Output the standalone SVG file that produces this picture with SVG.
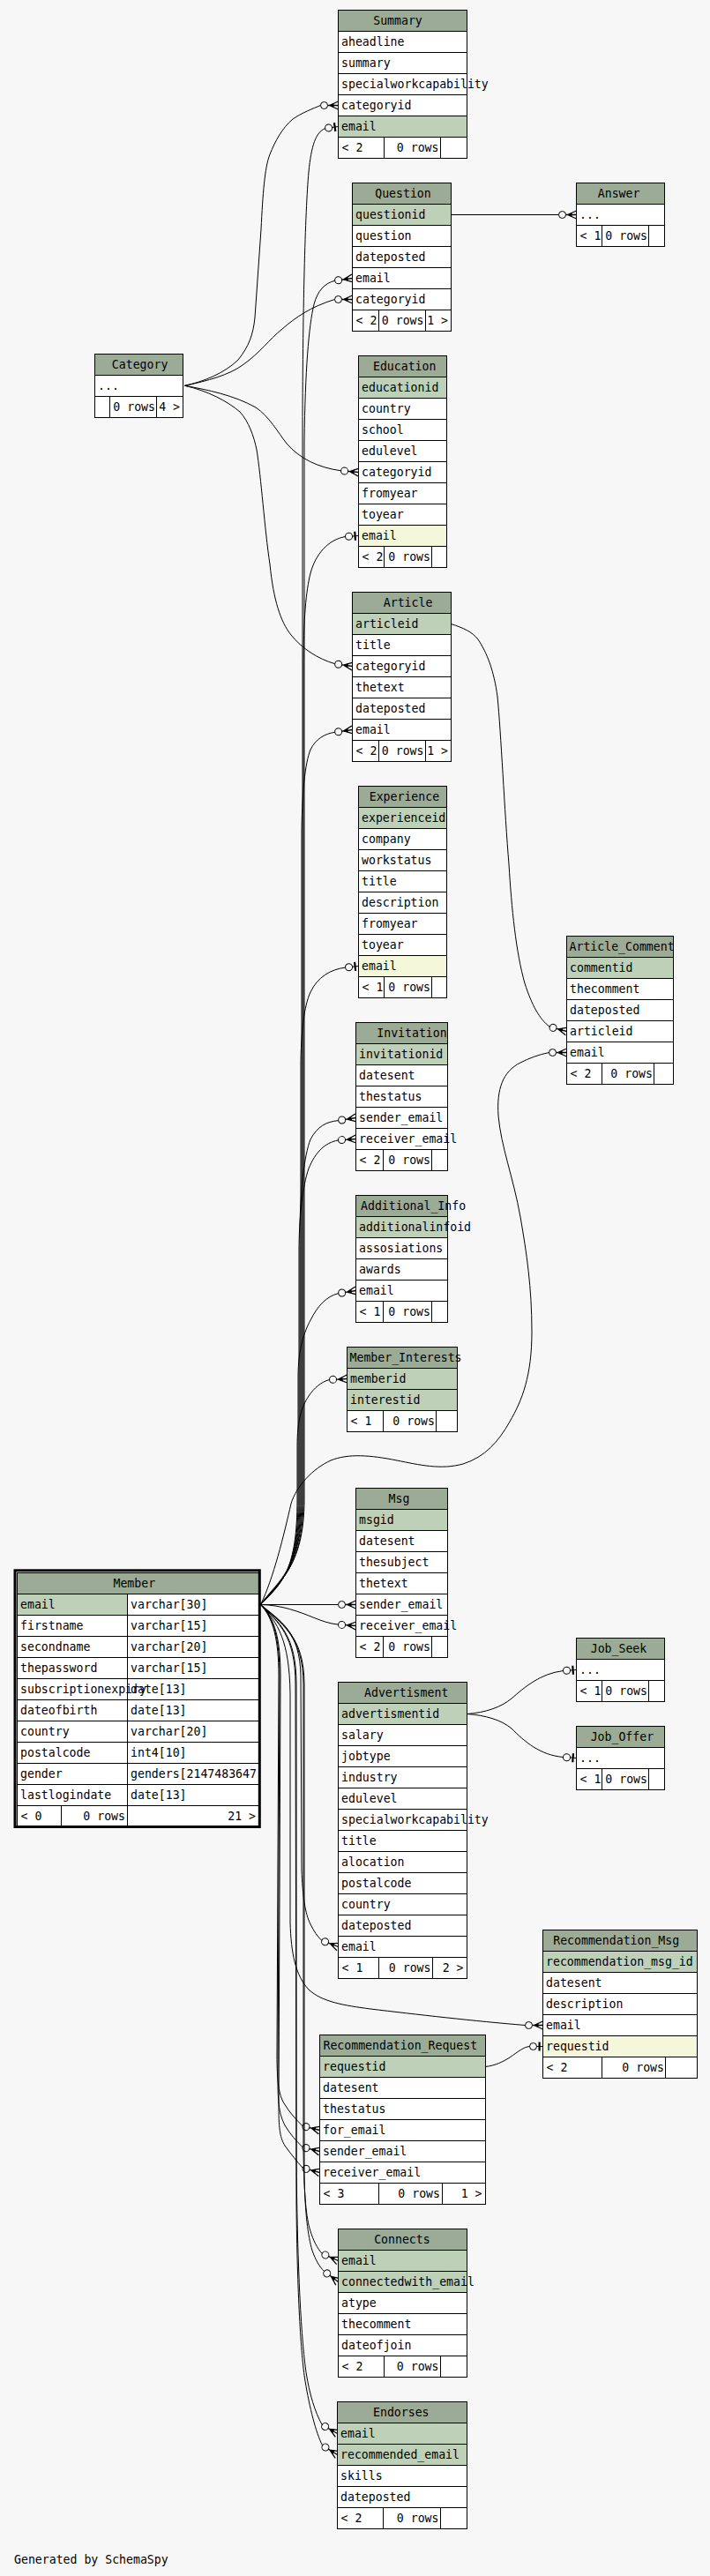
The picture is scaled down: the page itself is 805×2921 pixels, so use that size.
<svg xmlns="http://www.w3.org/2000/svg" width="805" height="2921" viewBox="0 0 805 2921">
<style>
.t{font-family:"DejaVu Sans Mono","Liberation Mono",monospace;font-size:13.2px;fill:#000}
.m{text-anchor:middle}
.e{text-anchor:end}
.hd{fill:#9bab96;stroke:#000;stroke-width:1}
.pk{fill:#bed1b8;stroke:#000;stroke-width:1}
.ix{fill:#f4f7da;stroke:#000;stroke-width:1}
.rw{fill:#fff;stroke:#000;stroke-width:1}
.ln{stroke:#000;stroke-width:1;fill:none}
.ed{fill:none;stroke:#000;stroke-width:1}
</style>
<defs>
<g id="crow">
<circle cx="-16" cy="0" r="4" fill="none" stroke="#000" stroke-width="1"/>
<path d="M-12,0 H0 M-10,0 L0,-4.5 M-10,0 L0,4.5" fill="none" stroke="#000" stroke-width="1.3"/>
<path d="M-10,0 L-5,-2.5 L-5,2.5 Z" fill="#000"/>
</g>
<g id="tee">
<circle cx="-11" cy="0" r="4" fill="none" stroke="#000" stroke-width="1"/>
<rect x="-5" y="-5" width="2.2" height="10" fill="#000"/>
<path d="M-7,0 H0" fill="none" stroke="#000" stroke-width="1"/>
</g>
</defs>
<rect x="0" y="0" width="805" height="2921" fill="#f7f7f7"/>

<g id="connectors">
<!-- Category edges -->
<path class="ed" d="M209.5,437.3 C230,433 255,423 270,408 C282,393 287,380 289,360 L296,260 C298,220 300,190 306,175 C312,160 320,145 332,135 C342,128 355,123 363.5,119.5"/>
<use href="#crow" transform="translate(383.5,119.5)"/>
<path class="ed" d="M209.5,437.3 C235,432 260,425 275,414 C295,400 305,385 320,373 C335,360 352,348 379.5,339.5"/>
<use href="#crow" transform="translate(399.5,339.5)"/>
<path class="ed" d="M209.5,437.3 C235,442 265,448 290,462 C305,472 315,490 325,503 C340,520 360,530 386.6,533.8"/>
<use href="#crow" transform="translate(406.5,535.5) rotate(5)"/>
<path class="ed" d="M209.5,437.3 C235,443 258,455 272,467 C282,478 288,495 291,510 C296,540 300,600 306,640 C310,680 318,705 330,720 C342,735 360,747 379.7,752.7"/>
<use href="#crow" transform="translate(399.5,755.5) rotate(8)"/>
<!-- Question -> Answer -->
<path class="ed" d="M511.5,243.5 L633.5,243.5"/>
<use href="#crow" transform="translate(653.5,243.5)"/>
<!-- Article -> Article_Comment -->
<path class="ed" d="M511.5,707.5 C525,712 535,716 542,725 C552,740 560,760 564,790 C568,830 572,920 577,980 C580,1030 585,1080 595,1115 C603,1140 612,1156 623.2,1164.3"/>
<use href="#crow" transform="translate(642.5,1169.5) rotate(15)"/>
<!-- Advertisment -> Job_Seek / Job_Offer -->
<path class="ed" d="M529.5,1943.5 C550,1942 568,1936 580,1926 C595,1913 612,1898 638.5,1894.5"/>
<use href="#tee" transform="translate(653.5,1893.5) rotate(-4)"/>
<path class="ed" d="M529.5,1943.5 C550,1945 568,1950 580,1960 C595,1975 612,1990 638.5,1992.5"/>
<use href="#tee" transform="translate(653.5,1993.5) rotate(4)"/>
<!-- Recommendation_Request -> Recommendation_Msg -->
<path class="ed" d="M550.5,2343.5 C562,2342 570,2338 578,2333 C588,2326 594,2321 600.5,2320.5"/>
<use href="#tee" transform="translate(615.5,2320.5)"/>
<!-- Member edges going up -->
<path class="ed" d="M295.5,1819.5 C312,1795 343,1780 343,1700 L343,500 C343,350 346,240 350,195 C353,165 358,150 368.6,145.6"/>
<use href="#tee" transform="translate(383.5,143.5) rotate(-8)"/>
<path class="ed" d="M295.5,1819.5 C313,1795 345,1780 345,1700 L345,500 C346,420 350,370 356,345 C360,330 368,321 379.7,318.3"/>
<use href="#crow" transform="translate(399.5,315.5) rotate(-8)"/>
<path class="ed" d="M295.5,1819.5 C314,1795 344,1780 344,1700 L344,760 C344,700 347,670 352,650 C358,628 372,612 391.5,608.5"/>
<use href="#tee" transform="translate(406.5,607.5) rotate(-4)"/>
<path class="ed" d="M295.5,1819.5 C315,1795 342,1780 342,1700 L342,950 C342,900 346,865 352,850 C358,838 368,832 379.7,830.3"/>
<use href="#crow" transform="translate(399.5,827.5) rotate(-8)"/>
<path class="ed" d="M295.5,1819.5 C316,1795 341,1780 341,1700 L341,1210 C341,1170 345,1140 352,1125 C360,1108 375,1099 391.6,1097.1"/>
<use href="#tee" transform="translate(406.5,1095.5) rotate(-6)"/>
<path class="ed" d="M295.5,1819.5 C317,1795 340,1780 340,1700 L340,1400 C340,1350 345,1310 352,1292 C360,1277 370,1272 383.7,1270.6"/>
<use href="#crow" transform="translate(403.5,1267.5) rotate(-9)"/>
<path class="ed" d="M295.5,1819.5 C318,1795 339,1780 339,1700 L339,1420 C339,1380 343,1345 350,1325 C358,1306 368,1296 383.5,1292.9"/>
<use href="#crow" transform="translate(403.5,1291.5) rotate(-4)"/>
<path class="ed" d="M295.5,1819.5 C319,1795 338,1780 338,1700 L338,1560 C338,1530 345,1510 352,1497 C360,1481 370,1470 383.7,1466.6"/>
<use href="#crow" transform="translate(403.5,1463.5) rotate(-9)"/>
<path class="ed" d="M295.5,1819.5 C320,1795 337,1780 337,1700 L337,1640 C337,1610 342,1595 350,1583 C356,1574 364,1567 373.5,1564.5"/>
<use href="#crow" transform="translate(393.5,1563.5) rotate(-3)"/>
<path class="ed" d="M295.5,1819.5 C310,1790 322,1740 330,1705 C336,1685 355,1665 375,1656 C395,1648 420,1650 450,1656 C475,1661 500,1667 525,1660 C550,1652 565,1635 578,1612 C592,1588 603,1560 603,1510 C603,1460 597,1420 590,1380 C582,1335 568,1300 565,1265 C563,1235 570,1215 590,1205 C600,1200 610,1196 622.5,1193.5"/>
<use href="#crow" transform="translate(642.5,1193.5)"/>
<path class="ed" d="M295.5,1819.5 L383.5,1819.5"/>
<use href="#crow" transform="translate(403.5,1819.5)"/>
<path class="ed" d="M295.5,1819.5 C320,1820 340,1828 355,1834 C365,1838 373,1841 383.5,1842.1"/>
<use href="#crow" transform="translate(403.5,1843.5) rotate(4)"/>
<!-- Member edges going down -->
<path class="ed" d="M295.5,1819.5 C318,1838 340,1850 341,1900 L342,2120 C343,2150 346,2170 352,2182 C356,2190 360,2196 364.8,2200.3"/>
<use href="#crow" transform="translate(383.5,2207.5) rotate(21)"/>
<path class="ed" d="M295.5,1819.5 C315,1840 328,1860 329,1920 L329,2180 C330,2215 335,2240 350,2256 C365,2270 390,2274 420,2278 C470,2284 540,2292 595.5,2296.5"/>
<use href="#crow" transform="translate(615.5,2296.5)"/>
<path class="ed" d="M295.5,1819.5 C310,1835 316,1860 316,1900 L314,2330 C314,2360 316,2375 322,2385 C328,2395 336,2404 343.1,2410.7"/>
<use href="#crow" transform="translate(362.5,2415.5) rotate(14)"/>
<path class="ed" d="M295.5,1819.5 C311,1835 317,1860 317,1900 L315,2360 C315,2390 318,2400 323,2410 C329,2420 336,2428 343.1,2434.7"/>
<use href="#crow" transform="translate(362.5,2439.5) rotate(14)"/>
<path class="ed" d="M295.5,1819.5 C312,1835 318,1860 318,1900 L316,2390 C316,2415 318,2425 323,2433 C330,2443 337,2451 343.2,2458.3"/>
<use href="#crow" transform="translate(362.5,2463.5) rotate(15)"/>
<path class="ed" d="M295.5,1819.5 C318,1840 344,1855 344,1910 L344,2440 C345,2490 347,2515 352,2530 C355,2540 360,2550 365.2,2555.4"/>
<use href="#crow" transform="translate(383.5,2563.5) rotate(24)"/>
<path class="ed" d="M295.5,1819.5 C319,1840 345,1855 345,1910 L345,2470 C346,2510 349,2535 354,2552 C358,2563 362,2570 367.5,2575.5"/>
<use href="#crow" transform="translate(383.5,2587.5) rotate(37)"/>
<path class="ed" d="M295.5,1819.5 C316,1840 335,1855 335,1910 L336,2450 C337,2550 340,2640 347,2690 C351,2715 357,2735 365.2,2749.5"/>
<use href="#crow" transform="translate(382.5,2759.5) rotate(30)"/>
<path class="ed" d="M295.5,1819.5 C317,1840 336,1855 336,1910 L336,2500 C337,2600 341,2670 346,2700 C351,2730 358,2758 365.5,2772.9"/>
<use href="#crow" transform="translate(382.5,2783.5) rotate(32)"/>
</g>

<g id="Summary">
<rect class="hd" x="383.5" y="11.5" width="146" height="24"/><text class="t m" x="451" y="27.5">Summary</text>
<rect class="rw" x="383.5" y="35.5" width="146" height="24"/><text class="t" x="387" y="51.5">aheadline</text>
<rect class="rw" x="383.5" y="59.5" width="146" height="24"/><text class="t" x="387" y="75.5">summary</text>
<rect class="rw" x="383.5" y="83.5" width="146" height="24"/><text class="t" x="387" y="99.5">specialworkcapability</text>
<rect class="rw" x="383.5" y="107.5" width="146" height="24"/><text class="t" x="387" y="123.5">categoryid</text>
<rect class="pk" x="383.5" y="131.5" width="146" height="24"/><text class="t" x="387" y="147.5">email</text>
<rect class="rw" x="383.5" y="155.5" width="146" height="24"/><path class="ln" d="M435.5,155.5V179.5M499.5,155.5V179.5"/>
<text class="t" x="387.5" y="171.5">&lt; 2</text><text class="t e" x="497.5" y="171.5">0 rows</text>
</g>

<g id="Question">
<rect class="hd" x="399.5" y="207.5" width="112" height="24"/><text class="t m" x="457" y="223.5">Question</text>
<rect class="pk" x="399.5" y="231.5" width="112" height="24"/><text class="t" x="403" y="247.5">questionid</text>
<rect class="rw" x="399.5" y="255.5" width="112" height="24"/><text class="t" x="403" y="271.5">question</text>
<rect class="rw" x="399.5" y="279.5" width="112" height="24"/><text class="t" x="403" y="295.5">dateposted</text>
<rect class="rw" x="399.5" y="303.5" width="112" height="24"/><text class="t" x="403" y="319.5">email</text>
<rect class="rw" x="399.5" y="327.5" width="112" height="24"/><text class="t" x="403" y="343.5">categoryid</text>
<rect class="rw" x="399.5" y="351.5" width="112" height="24"/><path class="ln" d="M429.5,351.5V375.5M482.5,351.5V375.5"/>
<text class="t" x="403.5" y="367.5">&lt; 2</text><text class="t e" x="480.5" y="367.5">0 rows</text><text class="t e" x="508" y="367.5">1 &gt;</text>
</g>

<g id="Answer">
<rect class="hd" x="653.5" y="207.5" width="100" height="24"/><text class="t m" x="701.6" y="223.5">Answer</text>
<rect class="rw" x="653.5" y="231.5" width="100" height="24"/><text class="t" x="657" y="247.5">...</text>
<rect class="rw" x="653.5" y="255.5" width="100" height="24"/><path class="ln" d="M682.5,255.5V279.5M735.5,255.5V279.5"/>
<text class="t" x="657.5" y="271.5">&lt; 1</text><text class="t e" x="734" y="271.5">0 rows</text>
</g>

<g id="Category">
<rect class="hd" x="107.5" y="401.5" width="100" height="24"/><text class="t m" x="158.6" y="417.5">Category</text>
<rect class="rw" x="107.5" y="425.5" width="100" height="24"/><text class="t" x="111" y="441.5">...</text>
<rect class="rw" x="107.5" y="449.5" width="100" height="24"/><path class="ln" d="M124.5,449.5V473.5M177.5,449.5V473.5"/>
<text class="t e" x="176" y="465.5">0 rows</text><text class="t e" x="204" y="465.5">4 &gt;</text>
</g>

<g id="Education">
<rect class="hd" x="406.5" y="403.5" width="100" height="24"/><text class="t m" x="458.7" y="419.5">Education</text>
<rect class="pk" x="406.5" y="427.5" width="100" height="24"/><text class="t" x="410" y="443.5">educationid</text>
<rect class="rw" x="406.5" y="451.5" width="100" height="24"/><text class="t" x="410" y="467.5">country</text>
<rect class="rw" x="406.5" y="475.5" width="100" height="24"/><text class="t" x="410" y="491.5">school</text>
<rect class="rw" x="406.5" y="499.5" width="100" height="24"/><text class="t" x="410" y="515.5">edulevel</text>
<rect class="rw" x="406.5" y="523.5" width="100" height="24"/><text class="t" x="410" y="539.5">categoryid</text>
<rect class="rw" x="406.5" y="547.5" width="100" height="24"/><text class="t" x="410" y="563.5">fromyear</text>
<rect class="rw" x="406.5" y="571.5" width="100" height="24"/><text class="t" x="410" y="587.5">toyear</text>
<rect class="ix" x="406.5" y="595.5" width="100" height="24"/><text class="t" x="410" y="611.5">email</text>
<rect class="rw" x="406.5" y="619.5" width="100" height="24"/><path class="ln" d="M435.5,619.5V643.5M489.5,619.5V643.5"/>
<text class="t" x="410.5" y="635.5">&lt; 2</text><text class="t e" x="488" y="635.5">0 rows</text>
</g>

<g id="Article">
<rect class="hd" x="399.5" y="671.5" width="112" height="24"/><text class="t m" x="462.6" y="687.5">Article</text>
<rect class="pk" x="399.5" y="695.5" width="112" height="24"/><text class="t" x="403" y="711.5">articleid</text>
<rect class="rw" x="399.5" y="719.5" width="112" height="24"/><text class="t" x="403" y="735.5">title</text>
<rect class="rw" x="399.5" y="743.5" width="112" height="24"/><text class="t" x="403" y="759.5">categoryid</text>
<rect class="rw" x="399.5" y="767.5" width="112" height="24"/><text class="t" x="403" y="783.5">thetext</text>
<rect class="rw" x="399.5" y="791.5" width="112" height="24"/><text class="t" x="403" y="807.5">dateposted</text>
<rect class="rw" x="399.5" y="815.5" width="112" height="24"/><text class="t" x="403" y="831.5">email</text>
<rect class="rw" x="399.5" y="839.5" width="112" height="24"/><path class="ln" d="M429.5,839.5V863.5M482.5,839.5V863.5"/>
<text class="t" x="403.5" y="855.5">&lt; 2</text><text class="t e" x="480.5" y="855.5">0 rows</text><text class="t e" x="508" y="855.5">1 &gt;</text>
</g>

<g id="Experience">
<rect class="hd" x="406.5" y="891.5" width="100" height="24"/><text class="t m" x="458.4" y="907.5">Experience</text>
<rect class="pk" x="406.5" y="915.5" width="100" height="24"/><text class="t" x="410" y="931.5">experienceid</text>
<rect class="rw" x="406.5" y="939.5" width="100" height="24"/><text class="t" x="410" y="955.5">company</text>
<rect class="rw" x="406.5" y="963.5" width="100" height="24"/><text class="t" x="410" y="979.5">workstatus</text>
<rect class="rw" x="406.5" y="987.5" width="100" height="24"/><text class="t" x="410" y="1003.5">title</text>
<rect class="rw" x="406.5" y="1011.5" width="100" height="24"/><text class="t" x="410" y="1027.5">description</text>
<rect class="rw" x="406.5" y="1035.5" width="100" height="24"/><text class="t" x="410" y="1051.5">fromyear</text>
<rect class="rw" x="406.5" y="1059.5" width="100" height="24"/><text class="t" x="410" y="1075.5">toyear</text>
<rect class="ix" x="406.5" y="1083.5" width="100" height="24"/><text class="t" x="410" y="1099.5">email</text>
<rect class="rw" x="406.5" y="1107.5" width="100" height="24"/><path class="ln" d="M435.5,1107.5V1131.5M489.5,1107.5V1131.5"/>
<text class="t" x="410.5" y="1123.5">&lt; 1</text><text class="t e" x="488" y="1123.5">0 rows</text>
</g>

<g id="Article_Comment">
<rect class="hd" x="642.5" y="1061.5" width="121" height="24"/><text class="t" x="645.5" y="1077.5">Article_Comment</text>
<rect class="pk" x="642.5" y="1085.5" width="121" height="24"/><text class="t" x="646" y="1101.5">commentid</text>
<rect class="rw" x="642.5" y="1109.5" width="121" height="24"/><text class="t" x="646" y="1125.5">thecomment</text>
<rect class="rw" x="642.5" y="1133.5" width="121" height="24"/><text class="t" x="646" y="1149.5">dateposted</text>
<rect class="rw" x="642.5" y="1157.5" width="121" height="24"/><text class="t" x="646" y="1173.5">articleid</text>
<rect class="rw" x="642.5" y="1181.5" width="121" height="24"/><text class="t" x="646" y="1197.5">email</text>
<rect class="rw" x="642.5" y="1205.5" width="121" height="24"/><path class="ln" d="M682.5,1205.5V1229.5M741.5,1205.5V1229.5"/>
<text class="t" x="646.5" y="1221.5">&lt; 2</text><text class="t e" x="740" y="1221.5">0 rows</text>
</g>

<g id="Invitation">
<rect class="hd" x="403.5" y="1159.5" width="104" height="24"/><text class="t m" x="467" y="1175.5">Invitation</text>
<rect class="pk" x="403.5" y="1183.5" width="104" height="24"/><text class="t" x="407" y="1199.5">invitationid</text>
<rect class="rw" x="403.5" y="1207.5" width="104" height="24"/><text class="t" x="407" y="1223.5">datesent</text>
<rect class="rw" x="403.5" y="1231.5" width="104" height="24"/><text class="t" x="407" y="1247.5">thestatus</text>
<rect class="rw" x="403.5" y="1255.5" width="104" height="24"/><text class="t" x="407" y="1271.5">sender_email</text>
<rect class="rw" x="403.5" y="1279.5" width="104" height="24"/><text class="t" x="407" y="1295.5">receiver_email</text>
<rect class="rw" x="403.5" y="1303.5" width="104" height="24"/><path class="ln" d="M434.5,1303.5V1327.5M489.5,1303.5V1327.5"/>
<text class="t" x="407.5" y="1319.5">&lt; 2</text><text class="t e" x="488" y="1319.5">0 rows</text>
</g>

<g id="Additional_Info">
<rect class="hd" x="403.5" y="1355.5" width="104" height="24"/><text class="t" x="409" y="1371.5">Additional_Info</text>
<rect class="pk" x="403.5" y="1379.5" width="104" height="24"/><text class="t" x="407" y="1395.5">additionalinfoid</text>
<rect class="rw" x="403.5" y="1403.5" width="104" height="24"/><text class="t" x="407" y="1419.5">assosiations</text>
<rect class="rw" x="403.5" y="1427.5" width="104" height="24"/><text class="t" x="407" y="1443.5">awards</text>
<rect class="rw" x="403.5" y="1451.5" width="104" height="24"/><text class="t" x="407" y="1467.5">email</text>
<rect class="rw" x="403.5" y="1475.5" width="104" height="24"/><path class="ln" d="M434.5,1475.5V1499.5M489.5,1475.5V1499.5"/>
<text class="t" x="407.5" y="1491.5">&lt; 1</text><text class="t e" x="488" y="1491.5">0 rows</text>
</g>

<g id="Member_Interests">
<rect class="hd" x="393.5" y="1527.5" width="125" height="24"/><text class="t" x="396.5" y="1543.5">Member_Interests</text>
<rect class="pk" x="393.5" y="1551.5" width="125" height="24"/><text class="t" x="397" y="1567.5">memberid</text>
<rect class="pk" x="393.5" y="1575.5" width="125" height="24"/><text class="t" x="397" y="1591.5">interestid</text>
<rect class="rw" x="393.5" y="1599.5" width="125" height="24"/><path class="ln" d="M434.5,1599.5V1623.5M494.5,1599.5V1623.5"/>
<text class="t" x="397.5" y="1615.5">&lt; 1</text><text class="t e" x="493" y="1615.5">0 rows</text>
</g>

<g id="Msg">
<rect class="hd" x="403.5" y="1687.5" width="104" height="24"/><text class="t m" x="452.5" y="1703.5">Msg</text>
<rect class="pk" x="403.5" y="1711.5" width="104" height="24"/><text class="t" x="407" y="1727.5">msgid</text>
<rect class="rw" x="403.5" y="1735.5" width="104" height="24"/><text class="t" x="407" y="1751.5">datesent</text>
<rect class="rw" x="403.5" y="1759.5" width="104" height="24"/><text class="t" x="407" y="1775.5">thesubject</text>
<rect class="rw" x="403.5" y="1783.5" width="104" height="24"/><text class="t" x="407" y="1799.5">thetext</text>
<rect class="rw" x="403.5" y="1807.5" width="104" height="24"/><text class="t" x="407" y="1823.5">sender_email</text>
<rect class="rw" x="403.5" y="1831.5" width="104" height="24"/><text class="t" x="407" y="1847.5">receiver_email</text>
<rect class="rw" x="403.5" y="1855.5" width="104" height="24"/><path class="ln" d="M434.5,1855.5V1879.5M489.5,1855.5V1879.5"/>
<text class="t" x="407.5" y="1871.5">&lt; 2</text><text class="t e" x="488" y="1871.5">0 rows</text>
</g>

<g id="Member">
<rect class="hd" x="19.5" y="1783.5" width="274" height="24"/><text class="t m" x="152.3" y="1799.5">Member</text>
<rect class="pk" x="19.5" y="1807.5" width="125" height="24"/><rect class="rw" x="144.5" y="1807.5" width="149" height="24"/>
<text class="t" x="23" y="1823.5">email</text><text class="t" x="148" y="1823.5">varchar[30]</text>
<rect class="rw" x="19.5" y="1831.5" width="125" height="24"/><rect class="rw" x="144.5" y="1831.5" width="149" height="24"/>
<text class="t" x="23" y="1847.5">firstname</text><text class="t" x="148" y="1847.5">varchar[15]</text>
<rect class="rw" x="19.5" y="1855.5" width="125" height="24"/><rect class="rw" x="144.5" y="1855.5" width="149" height="24"/>
<text class="t" x="23" y="1871.5">secondname</text><text class="t" x="148" y="1871.5">varchar[20]</text>
<rect class="rw" x="19.5" y="1879.5" width="125" height="24"/><rect class="rw" x="144.5" y="1879.5" width="149" height="24"/>
<text class="t" x="23" y="1895.5">thepassword</text><text class="t" x="148" y="1895.5">varchar[15]</text>
<rect class="rw" x="19.5" y="1903.5" width="125" height="24"/><rect class="rw" x="144.5" y="1903.5" width="149" height="24"/>
<text class="t" x="23" y="1919.5">subscriptionexpiry</text><text class="t" x="148" y="1919.5">date[13]</text>
<rect class="rw" x="19.5" y="1927.5" width="125" height="24"/><rect class="rw" x="144.5" y="1927.5" width="149" height="24"/>
<text class="t" x="23" y="1943.5">dateofbirth</text><text class="t" x="148" y="1943.5">date[13]</text>
<rect class="rw" x="19.5" y="1951.5" width="125" height="24"/><rect class="rw" x="144.5" y="1951.5" width="149" height="24"/>
<text class="t" x="23" y="1967.5">country</text><text class="t" x="148" y="1967.5">varchar[20]</text>
<rect class="rw" x="19.5" y="1975.5" width="125" height="24"/><rect class="rw" x="144.5" y="1975.5" width="149" height="24"/>
<text class="t" x="23" y="1991.5">postalcode</text><text class="t" x="148" y="1991.5">int4[10]</text>
<rect class="rw" x="19.5" y="1999.5" width="125" height="24"/><rect class="rw" x="144.5" y="1999.5" width="149" height="24"/>
<text class="t" x="23" y="2015.5">gender</text><text class="t" x="148" y="2015.5">genders[2147483647</text>
<rect class="rw" x="19.5" y="2023.5" width="125" height="24"/><rect class="rw" x="144.5" y="2023.5" width="149" height="24"/>
<text class="t" x="23" y="2039.5">lastlogindate</text><text class="t" x="148" y="2039.5">date[13]</text>
<rect class="rw" x="19.5" y="2047.5" width="274" height="24"/><path class="ln" d="M69.5,2047.5V2071.5M144.5,2047.5V2071.5"/>
<text class="t" x="23.5" y="2063.5">&lt; 0</text><text class="t e" x="142" y="2063.5">0 rows</text><text class="t e" x="290" y="2063.5">21 &gt;</text>
<rect x="17" y="1780.8" width="277.3" height="290.7" fill="none" stroke="#000" stroke-width="3"/>
</g>

<g id="Job_Seek">
<rect class="hd" x="653.5" y="1857.5" width="100" height="24"/><text class="t m" x="701.5" y="1873.5">Job_Seek</text>
<rect class="rw" x="653.5" y="1881.5" width="100" height="24"/><text class="t" x="657" y="1897.5">...</text>
<rect class="rw" x="653.5" y="1905.5" width="100" height="24"/><path class="ln" d="M682.5,1905.5V1929.5M735.5,1905.5V1929.5"/>
<text class="t" x="657.5" y="1921.5">&lt; 1</text><text class="t e" x="734" y="1921.5">0 rows</text>
</g>

<g id="Advertisment">
<rect class="hd" x="383.5" y="1907.5" width="146" height="24"/><text class="t m" x="460.7" y="1923.5">Advertisment</text>
<rect class="pk" x="383.5" y="1931.5" width="146" height="24"/><text class="t" x="387" y="1947.5">advertismentid</text>
<rect class="rw" x="383.5" y="1955.5" width="146" height="24"/><text class="t" x="387" y="1971.5">salary</text>
<rect class="rw" x="383.5" y="1979.5" width="146" height="24"/><text class="t" x="387" y="1995.5">jobtype</text>
<rect class="rw" x="383.5" y="2003.5" width="146" height="24"/><text class="t" x="387" y="2019.5">industry</text>
<rect class="rw" x="383.5" y="2027.5" width="146" height="24"/><text class="t" x="387" y="2043.5">edulevel</text>
<rect class="rw" x="383.5" y="2051.5" width="146" height="24"/><text class="t" x="387" y="2067.5">specialworkcapability</text>
<rect class="rw" x="383.5" y="2075.5" width="146" height="24"/><text class="t" x="387" y="2091.5">title</text>
<rect class="rw" x="383.5" y="2099.5" width="146" height="24"/><text class="t" x="387" y="2115.5">alocation</text>
<rect class="rw" x="383.5" y="2123.5" width="146" height="24"/><text class="t" x="387" y="2139.5">postalcode</text>
<rect class="rw" x="383.5" y="2147.5" width="146" height="24"/><text class="t" x="387" y="2163.5">country</text>
<rect class="rw" x="383.5" y="2171.5" width="146" height="24"/><text class="t" x="387" y="2187.5">dateposted</text>
<rect class="rw" x="383.5" y="2195.5" width="146" height="24"/><text class="t" x="387" y="2211.5">email</text>
<rect class="rw" x="383.5" y="2219.5" width="146" height="24"/><path class="ln" d="M429.5,2219.5V2243.5M490.5,2219.5V2243.5"/>
<text class="t" x="387.5" y="2235.5">&lt; 1</text><text class="t e" x="488.5" y="2235.5">0 rows</text><text class="t e" x="525.5" y="2235.5">2 &gt;</text>
</g>

<g id="Job_Offer">
<rect class="hd" x="653.5" y="1957.5" width="100" height="24"/><text class="t m" x="705.4" y="1973.5">Job_Offer</text>
<rect class="rw" x="653.5" y="1981.5" width="100" height="24"/><text class="t" x="657" y="1997.5">...</text>
<rect class="rw" x="653.5" y="2005.5" width="100" height="24"/><path class="ln" d="M682.5,2005.5V2029.5M735.5,2005.5V2029.5"/>
<text class="t" x="657.5" y="2021.5">&lt; 1</text><text class="t e" x="734" y="2021.5">0 rows</text>
</g>

<g id="Recommendation_Msg">
<rect class="hd" x="615.5" y="2188.5" width="175" height="24"/><text class="t m" x="698.7" y="2204.5">Recommendation_Msg</text>
<rect class="pk" x="615.5" y="2212.5" width="175" height="24"/><text class="t" x="619" y="2228.5">recommendation_msg_id</text>
<rect class="rw" x="615.5" y="2236.5" width="175" height="24"/><text class="t" x="619" y="2252.5">datesent</text>
<rect class="rw" x="615.5" y="2260.5" width="175" height="24"/><text class="t" x="619" y="2276.5">description</text>
<rect class="rw" x="615.5" y="2284.5" width="175" height="24"/><text class="t" x="619" y="2300.5">email</text>
<rect class="ix" x="615.5" y="2308.5" width="175" height="24"/><text class="t" x="619" y="2324.5">requestid</text>
<rect class="rw" x="615.5" y="2332.5" width="175" height="24"/><path class="ln" d="M682.5,2332.5V2356.5M754.5,2332.5V2356.5"/>
<text class="t" x="619.5" y="2348.5">&lt; 2</text><text class="t e" x="753" y="2348.5">0 rows</text>
</g>

<g id="Recommendation_Request">
<rect class="hd" x="362.5" y="2307.5" width="188" height="24"/><text class="t m" x="453.8" y="2323.5">Recommendation_Request</text>
<rect class="pk" x="362.5" y="2331.5" width="188" height="24"/><text class="t" x="366" y="2347.5">requestid</text>
<rect class="rw" x="362.5" y="2355.5" width="188" height="24"/><text class="t" x="366" y="2371.5">datesent</text>
<rect class="rw" x="362.5" y="2379.5" width="188" height="24"/><text class="t" x="366" y="2395.5">thestatus</text>
<rect class="rw" x="362.5" y="2403.5" width="188" height="24"/><text class="t" x="366" y="2419.5">for_email</text>
<rect class="rw" x="362.5" y="2427.5" width="188" height="24"/><text class="t" x="366" y="2443.5">sender_email</text>
<rect class="rw" x="362.5" y="2451.5" width="188" height="24"/><text class="t" x="366" y="2467.5">receiver_email</text>
<rect class="rw" x="362.5" y="2475.5" width="188" height="24"/><path class="ln" d="M429.5,2475.5V2499.5M501.5,2475.5V2499.5"/>
<text class="t" x="366.5" y="2491.5">&lt; 3</text><text class="t e" x="499" y="2491.5">0 rows</text><text class="t e" x="546.5" y="2491.5">1 &gt;</text>
</g>

<g id="Connects">
<rect class="hd" x="383.5" y="2527.5" width="146" height="24"/><text class="t m" x="455.9" y="2543.5">Connects</text>
<rect class="pk" x="383.5" y="2551.5" width="146" height="24"/><text class="t" x="387" y="2567.5">email</text>
<rect class="pk" x="383.5" y="2575.5" width="146" height="24"/><text class="t" x="387" y="2591.5">connectedwith_email</text>
<rect class="rw" x="383.5" y="2599.5" width="146" height="24"/><text class="t" x="387" y="2615.5">atype</text>
<rect class="rw" x="383.5" y="2623.5" width="146" height="24"/><text class="t" x="387" y="2639.5">thecomment</text>
<rect class="rw" x="383.5" y="2647.5" width="146" height="24"/><text class="t" x="387" y="2663.5">dateofjoin</text>
<rect class="rw" x="383.5" y="2671.5" width="146" height="24"/><path class="ln" d="M435.5,2671.5V2695.5M499.5,2671.5V2695.5"/>
<text class="t" x="387.5" y="2687.5">&lt; 2</text><text class="t e" x="497.5" y="2687.5">0 rows</text>
</g>

<g id="Endorses">
<rect class="hd" x="382.5" y="2723.5" width="147" height="24"/><text class="t m" x="454.8" y="2739.5">Endorses</text>
<rect class="pk" x="382.5" y="2747.5" width="147" height="24"/><text class="t" x="386" y="2763.5">email</text>
<rect class="pk" x="382.5" y="2771.5" width="147" height="24"/><text class="t" x="386" y="2787.5">recommended_email</text>
<rect class="rw" x="382.5" y="2795.5" width="147" height="24"/><text class="t" x="386" y="2811.5">skills</text>
<rect class="rw" x="382.5" y="2819.5" width="147" height="24"/><text class="t" x="386" y="2835.5">dateposted</text>
<rect class="rw" x="382.5" y="2843.5" width="147" height="24"/><path class="ln" d="M434.5,2843.5V2867.5M499.5,2843.5V2867.5"/>
<text class="t" x="386.5" y="2859.5">&lt; 2</text><text class="t e" x="497.5" y="2859.5">0 rows</text>
</g>

<text class="t" x="16" y="2907">Generated by SchemaSpy</text>
</svg>
